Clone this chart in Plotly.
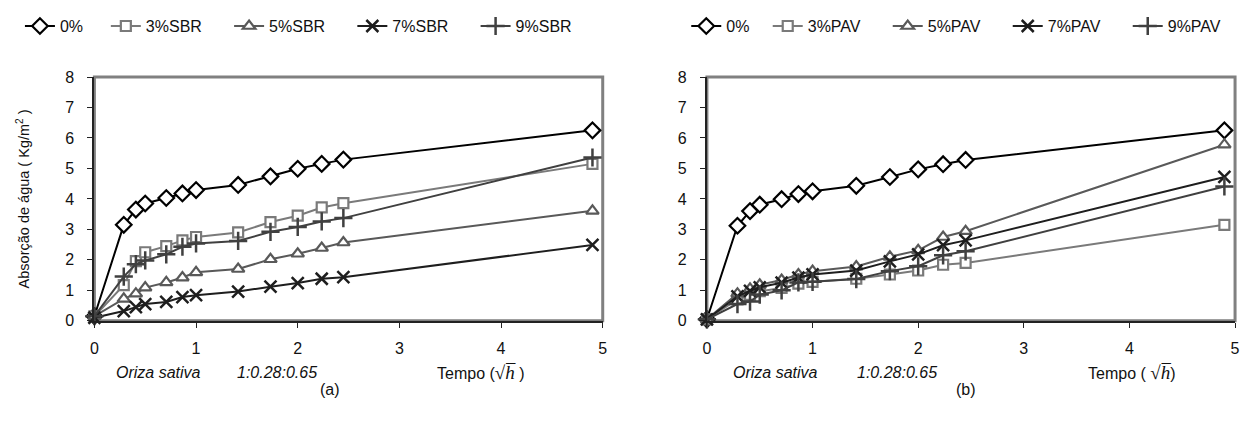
import plotly.graph_objects as go

# time axis: sqrt(hours)
tempo = [0, 0.289, 0.408, 0.5, 0.707, 0.866, 1.0, 1.414, 1.732, 2.0, 2.236, 2.449, 4.899]

# (a) SBR
sbr_0 = [0.15, 3.15, 3.65, 3.85, 4.03, 4.18, 4.29, 4.46, 4.74, 4.99, 5.15, 5.29, 6.25]
sbr_3 = [0.15, 1.17, 1.96, 2.25, 2.45, 2.64, 2.75, 2.90, 3.24, 3.45, 3.72, 3.86, 5.15]
sbr_5 = [0.15, 0.72, 0.89, 1.09, 1.26, 1.42, 1.59, 1.70, 2.02, 2.20, 2.39, 2.57, 3.61]
sbr_7 = [0.10, 0.32, 0.45, 0.55, 0.62, 0.78, 0.84, 0.96, 1.12, 1.24, 1.38, 1.43, 2.49]
sbr_9 = [0.15, 1.45, 1.86, 1.98, 2.18, 2.43, 2.54, 2.62, 2.92, 3.08, 3.26, 3.37, 5.36]

# (b) PAV
pav_0 = [0.05, 3.12, 3.60, 3.81, 3.99, 4.16, 4.25, 4.43, 4.72, 4.97, 5.14, 5.28, 6.25]
pav_3 = [0.05, 0.70, 0.85, 0.97, 1.08, 1.22, 1.28, 1.38, 1.52, 1.65, 1.84, 1.90, 3.15]
pav_5 = [0.05, 0.89, 1.05, 1.18, 1.34, 1.52, 1.63, 1.78, 2.10, 2.31, 2.75, 2.94, 5.78]
pav_7 = [0.05, 0.80, 0.98, 1.10, 1.25, 1.42, 1.52, 1.65, 1.95, 2.18, 2.48, 2.64, 4.72]
pav_9 = [0.05, 0.55, 0.63, 0.86, 1.00, 1.26, 1.28, 1.37, 1.63, 1.79, 2.15, 2.28, 4.41]

labels_a = ["0%", "3%SBR", "5%SBR", "7%SBR", "9%SBR"]
labels_b = ["0%", "3%PAV", "5%PAV", "7%PAV", "9%PAV"]

NB = "\u00a0"
pads_a = [4, 5, 5, 5, 5]
pads_b = [3, 5, 5, 5, 5]

styles = [
    dict(color="#000000", symbol="diamond", size=12, mlw=2.2, fill="white"),
    dict(color="#7a7a7a", symbol="square", size=10, mlw=2.2, fill="white"),
    dict(color="#595959", symbol="triangle-up", size=11, mlw=2.2, fill="white"),
    dict(color="#1e1e1e", symbol="x-thin", size=12, mlw=2.5, fill=None),
    dict(color="#404040", symbol="cross-thin", size=13, mlw=2.5, fill=None),
]

FONT = "Liberation Sans, Arial, sans-serif"

fig = go.Figure()

for series, labels, pads, xa, ya, leg in [
    ([sbr_0, sbr_3, sbr_5, sbr_7, sbr_9], labels_a, pads_a, "x", "y", "legend"),
    ([pav_0, pav_3, pav_5, pav_7, pav_9], labels_b, pads_b, "x2", "y2", "legend2"),
]:
    for vals, name, st, pad in zip(series, labels, styles, pads):
        fig.add_trace(go.Scatter(
            x=tempo, y=vals, name=name + NB * pad, mode="lines+markers",
            xaxis=xa, yaxis=ya, legend=leg, cliponaxis=False,
            line=dict(color=st["color"], width=2),
            marker=dict(symbol=st["symbol"], size=st["size"],
                        color=st["fill"] or st["color"],
                        line=dict(color=st["color"], width=st["mlw"])),
        ))

axis_common = dict(
    range=[0, 5], dtick=1, tick0=0, showgrid=False, zeroline=False,
    showline=True, linecolor="#222222", linewidth=2,
    ticks="outside", ticklen=5, tickwidth=1, tickcolor="#222222",
    ticklabelstandoff=7,
    tickfont=dict(family=FONT, size=16, color="#111111"),
)
yaxis_common = dict(
    range=[0, 8], dtick=1, tick0=0, showgrid=False, zeroline=False,
    showline=True, linecolor="#222222", linewidth=2,
    ticks="outside", ticklen=5, tickwidth=1, tickcolor="#222222",
    ticklabelstandoff=10,
    tickfont=dict(family=FONT, size=16, color="#111111"),
)

yb, yt = 0.257, 0.836
fig.update_layout(
    width=1254, height=438,
    margin=dict(l=0, r=0, t=0, b=0),
    paper_bgcolor="white", plot_bgcolor="white",
    font=dict(family=FONT, size=14, color="#111111"),
    xaxis=dict(domain=[0.0726, 0.4809], anchor="y", **axis_common),
    yaxis=dict(domain=[yb, yt], anchor="x",
               title=dict(text="Absorção de água ( Kg/m<sup>2</sup> )",
                          font=dict(family=FONT, size=14.5), standoff=32),
               **yaxis_common),
    xaxis2=dict(domain=[0.5646, 0.9888], anchor="y2", **axis_common),
    yaxis2=dict(domain=[yb, yt], anchor="x2", **yaxis_common),
    legend=dict(orientation="h", x=0.0128, y=0.957, xanchor="left", yanchor="middle",
                font=dict(family=FONT, size=16), bgcolor="rgba(0,0,0,0)",
                itemwidth=30, tracegroupgap=0),
    legend2=dict(orientation="h", x=0.548, y=0.957, xanchor="left", yanchor="middle",
                 font=dict(family=FONT, size=16), bgcolor="rgba(0,0,0,0)",
                 itemwidth=30, tracegroupgap=0),
    showlegend=True,
)

# gray plot-area border (top/right), axis lines drawn on top
for xr, yr in [("x domain", "y domain"), ("x2 domain", "y2 domain")]:
    fig.add_shape(type="rect", xref=xr, yref=yr, x0=0, x1=1, y0=0, y1=1,
                  line=dict(color="#808080", width=3), layer="below")

ann_font = dict(family=FONT, size=16, color="#111111")
H = "<span style='font-family:Liberation Serif;font-size:19px'>√<i>h̅</i></span>"
row1, row2 = 0.135, 0.094
annotations = [
    dict(x=111 / 1254, y=row1, text="<i>Oriza sativa</i>", xanchor="left"),
    dict(x=233 / 1254, y=row1, text="<i>1:0.28:0.65</i>", xanchor="left"),
    dict(x=434 / 1254, y=row1, text="Tempo (" + H + " )", xanchor="left"),
    dict(x=328 / 1254, y=row2, text="(a)", xanchor="center"),
    dict(x=732 / 1254, y=row1, text="<i>Oriza sativa</i>", xanchor="left"),
    dict(x=857 / 1254, y=row1, text="<i>1:0.28:0.65</i>", xanchor="left"),
    dict(x=1090 / 1254, y=row1, text="Tempo ( " + H + ")", xanchor="left"),
    dict(x=969 / 1254, y=row2, text="(b)", xanchor="center"),
]
for a in annotations:
    fig.add_annotation(xref="paper", yref="paper", showarrow=False,
                       yanchor="middle", font=ann_font, **a)

fig.write_html("out.html")
